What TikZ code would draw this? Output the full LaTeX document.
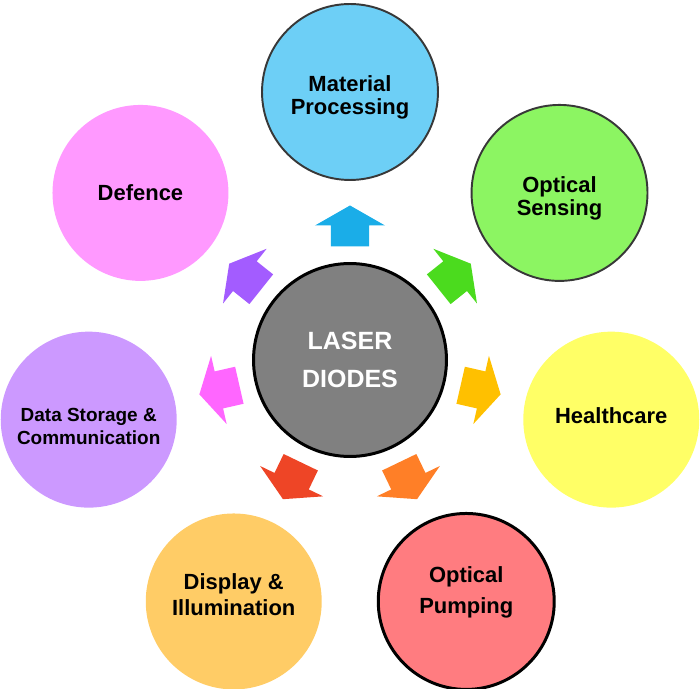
\documentclass[tikz,border=0pt]{standalone}
\usepackage{fontspec}
\setmainfont{Liberation Sans}
\usepackage{tikz}
\usetikzlibrary{positioning}

\definecolor{matblue}{HTML}{6DCFF6}
\definecolor{sensgreen}{HTML}{8CF562}
\definecolor{healyellow}{HTML}{FFFF66}
\definecolor{pumpred}{HTML}{FF7C80}
\definecolor{dispgold}{HTML}{FFCC66}
\definecolor{storlilac}{HTML}{CC99FF}
\definecolor{defpink}{HTML}{FF99FF}
\definecolor{hubgray}{HTML}{808080}
\definecolor{rimgray}{HTML}{383838}
\definecolor{arrblue}{HTML}{1AADE8}
\definecolor{arrgreen}{HTML}{4BDB1E}
\definecolor{arryellow}{HTML}{FFC000}
\definecolor{arrorange}{HTML}{FF7F27}
\definecolor{arrred}{HTML}{EE4526}
\definecolor{arrpink}{HTML}{FF66FF}
\definecolor{arrpurple}{HTML}{A35CFF}

\tikzset{
    app/.style={circle, minimum size=3.52cm, inner sep=0pt, align=center,
        text=black!90, font=\bfseries\fontsize{12.5}{13}\selectfont},
    hub/.style={circle, minimum size=3.86cm, inner sep=0pt, align=center,
        fill=hubgray, draw=black, line width=1.7pt, text=white,
        font=\bfseries\fontsize{14.2}{21.5}\selectfont},
}

\begin{document}
\begin{tikzpicture}[x=0.02cm,y=0.02cm]
    \useasboundingbox (-350,-329) rectangle (350,360);

    %% block arrows pointing out of the hub
    \foreach \i/\col in {0/arrblue,1/arrgreen,2/arryellow,3/arrorange,4/arrred,5/arrpink,6/arrpurple}
    {
        \pgfmathsetmacro{\ang}{90-\i*360/7}
        \fill[\col, shift={(\ang:134)}, rotate=\ang]
            (-20.5,-19) -- (0.5,-19) -- (0.5,-35) -- (20.5,0) -- (0.5,35) -- (0.5,19) -- (-20.5,19) -- cycle;
    }

    %% hub
    \node[hub] (diodes) at (0,0) {LASER\\DIODES};

    %% applications
    \node[app, fill=matblue, draw=rimgray, line width=1.1pt] (material) at (90:268) {};
    \node[app, fill=sensgreen, draw=rimgray, line width=1.1pt] (sensing) at (38.57:268) {};
    \node[app, fill=healyellow] (health) at (-12.86:268) {};
    \node[app, fill=pumpred, draw=black, line width=1.7pt] (pumping) at (-64.29:268) {};
    \node[app, fill=dispgold] (display) at (-115.71:268) {};
    \node[app, fill=storlilac] (storage) at (-167.14:268) {};
    \node[app, fill=defpink] (defence) at (141.43:268) {};

    %% labels, nudged a little as in the original
    \node[align=center, font=\bfseries\fontsize{12.5}{13}\selectfont] (materialtext) at ([yshift=-3]material.center) {Material\\Processing};
    \node[align=center, font=\bfseries\fontsize{12.5}{13}\selectfont] (sensingtext) at ([yshift=-3]sensing.center) {Optical\\Sensing};
    \node[align=center, font=\bfseries\fontsize{12.5}{13}\selectfont] (healthtext) at ([yshift=2]health.center) {Healthcare};
    \node[align=center, font=\bfseries\fontsize{12.5}{13}\selectfont] (pumpingtext) at ([yshift=5]pumping.center) {Optical\\[4.6pt]Pumping};
    \node[align=center, font=\bfseries\fontsize{12.5}{13}\selectfont] (displaytext) at ([yshift=4]display.center) {Display \&\\[1.7pt]Illumination};
    \node[align=center, font=\bfseries\fontsize{10.8}{13}\selectfont] (storagetext) at ([yshift=-4]storage.center) {Data Storage \&\\Communication};
    \node[align=center, font=\bfseries\fontsize{12.5}{13}\selectfont] (defencetext) at (defence.center) {Defence};
\end{tikzpicture}
\end{document}
